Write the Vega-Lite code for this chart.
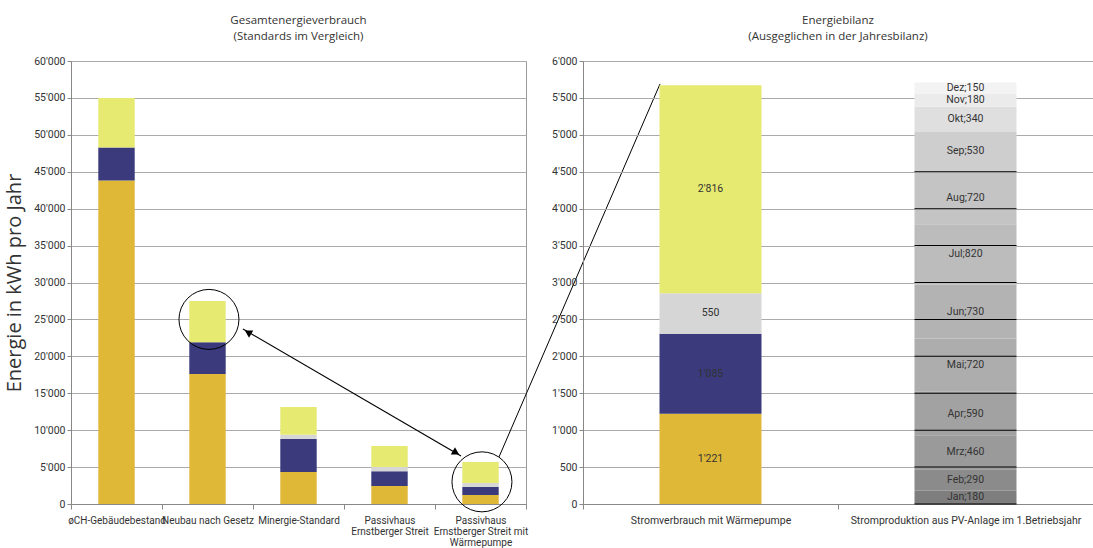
{
  "$schema": "https://vega.github.io/schema/vega-lite/v6.json",
  "padding": {"left": 4, "top": 14, "right": 0, "bottom": 0},
  "background": "white",
  "datasets": {
    "left": [
      {"cat": "øCH-Gebäudebestand", "part": "p1", "order": 1, "v": 43800},
      {"cat": "øCH-Gebäudebestand", "part": "p2", "order": 2, "v": 4500},
      {"cat": "øCH-Gebäudebestand", "part": "p4", "order": 4, "v": 6700},
      {"cat": "Neubau nach Gesetz", "part": "p1", "order": 1, "v": 17600},
      {"cat": "Neubau nach Gesetz", "part": "p2", "order": 2, "v": 4300},
      {"cat": "Neubau nach Gesetz", "part": "p4", "order": 4, "v": 5600},
      {"cat": "Minergie-Standard", "part": "p1", "order": 1, "v": 4330},
      {"cat": "Minergie-Standard", "part": "p2", "order": 2, "v": 4470},
      {"cat": "Minergie-Standard", "part": "p3", "order": 3, "v": 580},
      {"cat": "Minergie-Standard", "part": "p4", "order": 4, "v": 3750},
      {"cat": "Passivhaus Ernstberger Streit", "part": "p1", "order": 1, "v": 2450},
      {"cat": "Passivhaus Ernstberger Streit", "part": "p2", "order": 2, "v": 2000},
      {"cat": "Passivhaus Ernstberger Streit", "part": "p3", "order": 3, "v": 550},
      {"cat": "Passivhaus Ernstberger Streit", "part": "p4", "order": 4, "v": 2850},
      {"cat": "Passivhaus Ernstberger Streit mit Wärmepumpe", "part": "p1", "order": 1, "v": 1221},
      {"cat": "Passivhaus Ernstberger Streit mit Wärmepumpe", "part": "p2", "order": 2, "v": 1085},
      {"cat": "Passivhaus Ernstberger Streit mit Wärmepumpe", "part": "p3", "order": 3, "v": 550},
      {"cat": "Passivhaus Ernstberger Streit mit Wärmepumpe", "part": "p4", "order": 4, "v": 2816}
    ],
    "right": [
      {"cat": "Stromverbrauch mit Wärmepumpe", "part": "p1", "order": 1, "v": 1221, "label": "1'221"},
      {"cat": "Stromverbrauch mit Wärmepumpe", "part": "p2", "order": 2, "v": 1085, "label": "1'085"},
      {"cat": "Stromverbrauch mit Wärmepumpe", "part": "p3", "order": 3, "v": 550, "label": "550"},
      {"cat": "Stromverbrauch mit Wärmepumpe", "part": "p4", "order": 4, "v": 2816, "label": "2'816"},
      {"cat": "Stromproduktion aus PV-Anlage im 1.Betriebsjahr", "part": "Jan", "order": 1, "v": 180, "label": "Jan;180"},
      {"cat": "Stromproduktion aus PV-Anlage im 1.Betriebsjahr", "part": "Feb", "order": 2, "v": 290, "label": "Feb;290"},
      {"cat": "Stromproduktion aus PV-Anlage im 1.Betriebsjahr", "part": "Mrz", "order": 3, "v": 460, "label": "Mrz;460"},
      {"cat": "Stromproduktion aus PV-Anlage im 1.Betriebsjahr", "part": "Apr", "order": 4, "v": 590, "label": "Apr;590"},
      {"cat": "Stromproduktion aus PV-Anlage im 1.Betriebsjahr", "part": "Mai", "order": 5, "v": 720, "label": "Mai;720"},
      {"cat": "Stromproduktion aus PV-Anlage im 1.Betriebsjahr", "part": "Jun", "order": 6, "v": 730, "label": "Jun;730"},
      {"cat": "Stromproduktion aus PV-Anlage im 1.Betriebsjahr", "part": "Jul", "order": 7, "v": 820, "label": "Jul;820"},
      {"cat": "Stromproduktion aus PV-Anlage im 1.Betriebsjahr", "part": "Aug", "order": 8, "v": 720, "label": "Aug;720"},
      {"cat": "Stromproduktion aus PV-Anlage im 1.Betriebsjahr", "part": "Sep", "order": 9, "v": 530, "label": "Sep;530"},
      {"cat": "Stromproduktion aus PV-Anlage im 1.Betriebsjahr", "part": "Okt", "order": 10, "v": 340, "label": "Okt;340"},
      {"cat": "Stromproduktion aus PV-Anlage im 1.Betriebsjahr", "part": "Nov", "order": 11, "v": 180, "label": "Nov;180"},
      {"cat": "Stromproduktion aus PV-Anlage im 1.Betriebsjahr", "part": "Dez", "order": 12, "v": 150, "label": "Dez;150"}
    ],
    "pvlines": [
      {"cat": "Stromproduktion aus PV-Anlage im 1.Betriebsjahr", "v": 0},
      {"cat": "Stromproduktion aus PV-Anlage im 1.Betriebsjahr", "v": 500},
      {"cat": "Stromproduktion aus PV-Anlage im 1.Betriebsjahr", "v": 1000},
      {"cat": "Stromproduktion aus PV-Anlage im 1.Betriebsjahr", "v": 1500},
      {"cat": "Stromproduktion aus PV-Anlage im 1.Betriebsjahr", "v": 2000},
      {"cat": "Stromproduktion aus PV-Anlage im 1.Betriebsjahr", "v": 2500},
      {"cat": "Stromproduktion aus PV-Anlage im 1.Betriebsjahr", "v": 3000},
      {"cat": "Stromproduktion aus PV-Anlage im 1.Betriebsjahr", "v": 3500},
      {"cat": "Stromproduktion aus PV-Anlage im 1.Betriebsjahr", "v": 4000},
      {"cat": "Stromproduktion aus PV-Anlage im 1.Betriebsjahr", "v": 4500}
    ],
    "circles": [
      {"xq": 1.516, "v": 25000},
      {"xq": 4.516, "v": 3000}
    ],
    "arrow": [
      {"xq": 1.89, "v": 23700, "xq2": 4.286, "v2": 6500}
    ],
    "arrowStart": [{"xq": 1.945, "v": 23250}],
    "arrowEnd": [{"xq": 4.231, "v": 6950}],
    "connector": [
      {"xq": 4.703, "v": 6360, "xq2": 6.473, "v2": 56900}
    ]
  },
  "config": {
    "font": "Roboto",
    "view": {"stroke": "#999", "strokeWidth": 1},
    "axis": {
      "labelFont": "Roboto",
      "labelFontSize": 10.5,
      "labelColor": "#333",
      "domainColor": "#888",
      "tickColor": "#888",
      "gridColor": "#aaa",
      "titleFont": "Open Sans",
      "titleFontWeight": "normal",
      "titleColor": "#333"
    },
    "title": {
      "font": "Open Sans",
      "fontSize": 11.5,
      "fontWeight": "normal",
      "color": "#333",
      "lineHeight": 16,
      "offset": 14
    }
  },
  "bounds": "flush",
  "spacing": 57,
  "hconcat": [
    {
      "title": {"text": ["Gesamtenergieverbrauch", "(Standards im Vergleich)"]},
      "width": 455,
      "height": 443,
      "layer": [
        {
          "data": {"name": "left"},
          "mark": {"type": "bar", "width": {"band": 0.4}},
          "encoding": {
            "x": {
              "field": "cat",
              "type": "nominal",
              "sort": ["øCH-Gebäudebestand", "Neubau nach Gesetz", "Minergie-Standard", "Passivhaus Ernstberger Streit", "Passivhaus Ernstberger Streit mit Wärmepumpe"],
              "scale": {"paddingInner": 0, "paddingOuter": 0},
              "axis": {
                "title": null,
                "labelAngle": 0,
                "tickBand": "extent",
                "tickSize": 5,
                "labelPadding": 6,
                "labelFontSize": 10,
                "labelLineHeight": 11,
                "labelLimit": 200,
                "labelExpr": "datum.value == 'Passivhaus Ernstberger Streit' ? ['Passivhaus', 'Ernstberger Streit'] : datum.value == 'Passivhaus Ernstberger Streit mit Wärmepumpe' ? ['Passivhaus', 'Ernstberger Streit mit', 'Wärmepumpe'] : datum.value"
              }
            },
            "y": {
              "field": "v",
              "type": "quantitative",
              "stack": "zero",
              "scale": {"domain": [0, 60000], "nice": false},
              "axis": {
                "title": "Energie in kWh pro Jahr",
                "titleFontSize": 20,
                "titlePadding": 9,
                "tickCount": 12,
                "labelExpr": "replace(format(datum.value, ','), ',', \"'\")",
                "tickSize": 4,
                "grid": true
              }
            },
            "color": {
              "field": "part",
              "type": "nominal",
              "scale": {
                "domain": ["p1", "p2", "p3", "p4", "Jan", "Feb", "Mrz", "Apr", "Mai", "Jun", "Jul", "Aug", "Sep", "Okt", "Nov", "Dez"],
                "range": ["#e0b837", "#3a3a7d", "#d6d6d6", "#e6ea70", "#7e7e7e", "#8b8b8b", "#9a9a9a", "#a2a2a2", "#adadad", "#b3b3b3", "#bcbcbc", "#c4c4c4", "#cecece", "#dfdfdf", "#ebebeb", "#f3f3f3"]
              },
              "legend": null
            },
            "order": {"field": "order", "type": "quantitative"}
          }
        },
        {
          "data": {"name": "circles"},
          "mark": {"type": "point", "shape": "circle", "size": 3600, "filled": false, "stroke": "black", "strokeWidth": 1, "opacity": 1},
          "encoding": {
            "x": {"field": "xq", "type": "quantitative", "scale": {"domain": [0, 5], "nice": false, "zero": false}, "axis": null},
            "y": {"field": "v", "type": "quantitative"}
          }
        },
        {
          "data": {"name": "arrow"},
          "mark": {"type": "rule", "color": "black", "strokeWidth": 1.2},
          "encoding": {
            "x": {"field": "xq", "type": "quantitative", "scale": {"domain": [0, 5], "nice": false, "zero": false}, "axis": null},
            "x2": {"field": "xq2"},
            "y": {"field": "v", "type": "quantitative"},
            "y2": {"field": "v2"}
          }
        },
        {
          "data": {"name": "arrowStart"},
          "mark": {"type": "point", "shape": "triangle-left", "angle": 30, "size": 70, "filled": true, "color": "black", "opacity": 1},
          "encoding": {
            "x": {"field": "xq", "type": "quantitative", "scale": {"domain": [0, 5], "nice": false, "zero": false}, "axis": null},
            "y": {"field": "v", "type": "quantitative"}
          }
        },
        {
          "data": {"name": "arrowEnd"},
          "mark": {"type": "point", "shape": "triangle-right", "angle": 30, "size": 70, "filled": true, "color": "black", "opacity": 1},
          "encoding": {
            "x": {"field": "xq", "type": "quantitative", "scale": {"domain": [0, 5], "nice": false, "zero": false}, "axis": null},
            "y": {"field": "v", "type": "quantitative"}
          }
        },
        {
          "data": {"name": "connector"},
          "mark": {"type": "rule", "color": "black", "strokeWidth": 1},
          "encoding": {
            "x": {"field": "xq", "type": "quantitative", "scale": {"domain": [0, 5], "nice": false, "zero": false}, "axis": null},
            "x2": {"field": "xq2"},
            "y": {"field": "v", "type": "quantitative"},
            "y2": {"field": "v2"}
          }
        }
      ],
      "resolve": {"scale": {"x": "independent"}}
    },
    {
      "title": {"text": ["Energiebilanz", "(Ausgeglichen in der Jahresbilanz)"]},
      "width": 510,
      "height": 443,
      "layer": [
        {
          "data": {"name": "right"},
          "mark": {"type": "bar", "width": {"band": 0.4}},
          "encoding": {
            "x": {
              "field": "cat",
              "type": "nominal",
              "sort": ["Stromverbrauch mit Wärmepumpe", "Stromproduktion aus PV-Anlage im 1.Betriebsjahr"],
              "scale": {"paddingInner": 0, "paddingOuter": 0},
              "axis": {
                "title": null,
                "labelAngle": 0,
                "tickBand": "extent",
                "tickSize": 5,
                "labelPadding": 6,
                "labelFontSize": 10.5,
                "labelLimit": 300
              }
            },
            "y": {
              "field": "v",
              "type": "quantitative",
              "stack": "zero",
              "scale": {"domain": [0, 6000], "nice": false},
              "axis": {"title": null, "tickCount": 12, "labelExpr": "replace(format(datum.value, ','), ',', \"'\")", "tickSize": 4, "grid": true}
            },
            "color": {"field": "part", "type": "nominal", "legend": null},
            "order": {"field": "order", "type": "quantitative"}
          }
        },
        {
          "data": {"name": "pvlines"},
          "mark": {"type": "tick", "color": "black", "size": 102, "thickness": 1, "opacity": 1},
          "encoding": {
            "x": {"field": "cat", "type": "nominal", "sort": ["Stromverbrauch mit Wärmepumpe", "Stromproduktion aus PV-Anlage im 1.Betriebsjahr"]},
            "y": {"field": "v", "type": "quantitative"}
          }
        },
        {
          "data": {"name": "right"},
          "mark": {"type": "text", "fontSize": 10.5, "color": "#333", "font": "Roboto"},
          "encoding": {
            "x": {"field": "cat", "type": "nominal", "sort": ["Stromverbrauch mit Wärmepumpe", "Stromproduktion aus PV-Anlage im 1.Betriebsjahr"]},
            "y": {"field": "v", "type": "quantitative", "stack": "zero", "bandPosition": 0.5},
            "detail": {"field": "part"},
            "order": {"field": "order", "type": "quantitative"},
            "text": {"field": "label"}
          }
        }
      ]
    }
  ]
}
